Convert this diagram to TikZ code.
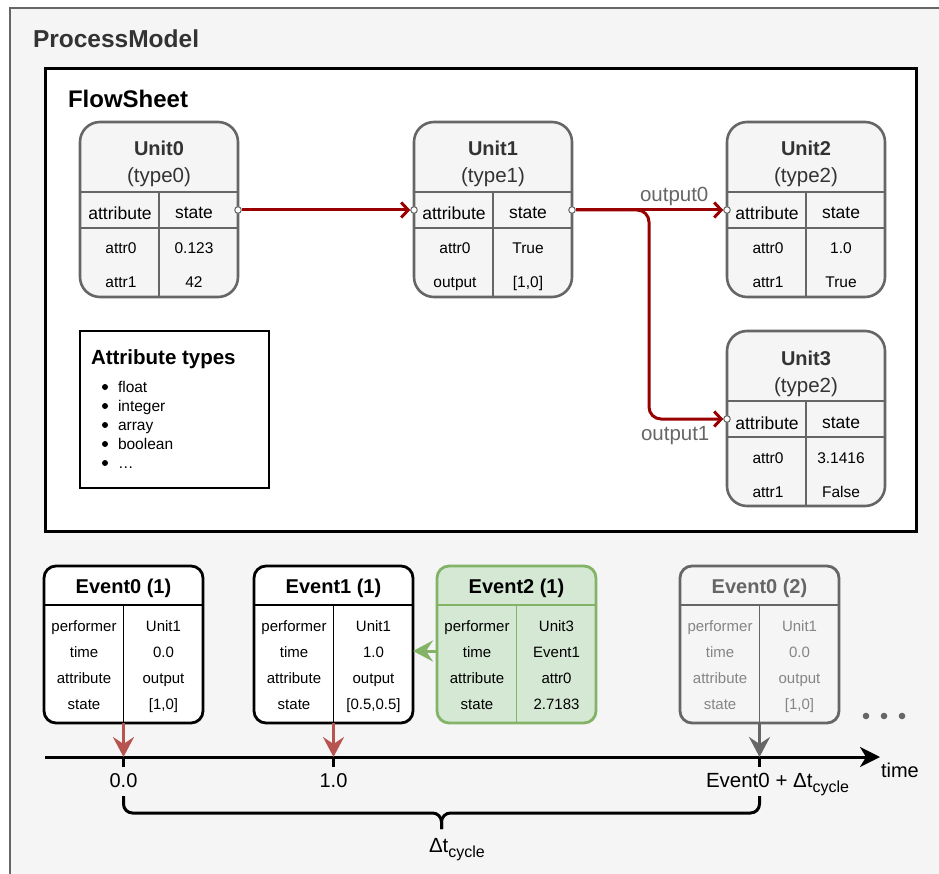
\documentclass[tikz,border=0pt]{standalone}
\usepackage{fontspec}
\setmainfont{Liberation Sans}
\usetikzlibrary{arrows.meta,calc}
\definecolor{bgfill}{HTML}{F5F5F5}
\definecolor{bgline}{HTML}{666666}
\definecolor{txtdark}{HTML}{333333}
\definecolor{flowred}{HTML}{990000}
\definecolor{evred}{HTML}{B85450}
\definecolor{gfill}{HTML}{D5E8D4}
\definecolor{gline}{HTML}{82B366}
\definecolor{fadetxt}{HTML}{858585}
\newcommand\fs[1]{\fontsize{#1}{#1}\selectfont}
\tikzset{
  box/.style={inner sep=0pt, outer sep=0pt, anchor=north west},
  txt/.style={inner sep=0pt, outer sep=0pt, anchor=base},
  txtw/.style={inner sep=0pt, outer sep=0pt, anchor=base west},
  unitbox/.style={box, draw=bgline, fill=bgfill, line width=2.6pt, rounded corners=20pt,
    minimum width=158pt, minimum height=175pt},
  usep/.style={draw=bgline, line width=1.3pt},
  uhead/.style={draw=bgline, line width=2.6pt},
  port/.style={circle, draw=bgline, fill=white, line width=1pt, inner sep=0pt, minimum size=6.5pt},
  flowarrow/.style={draw=flowred, line width=3pt, -{Straight Barb[length=7pt,width=15pt]}},
  evbox/.style={box, line width=2.8pt, rounded corners=12pt, minimum width=159pt, minimum height=157pt},
  evblack/.style={draw=black, fill=white},
  evgreen/.style={draw=gline, fill=gfill},
  evgray/.style={draw=bgline, fill=bgfill},
  droparrow/.style={line width=3pt, -{Stealth[length=20pt,width=21pt,inset=7pt]}},
  bracepart/.style={draw=black, line width=3pt, rounded corners=9pt},
}
\newcommand\mkunit[9]{%
  \node[unitbox] (#1) at (#2,#3) {};
  \draw[usep] ($(#1.north)+(0,70)$) -- (#1.south);
  \draw[usep] ($(#1.north west)+(0,106)$) -- ($(#1.north east)+(0,106)$);
  \draw[uhead] ($(#1.north west)+(0,70)$) -- ($(#1.north east)+(0,70)$);
  \node[txt,text=txtdark,font=\fs{20}\bfseries] (#1-title) at ($(#1.north west)+(79,34)$) {#4};
  \node[txt,text=txtdark,font=\fs{20.5}] (#1-type) at ($(#1.north west)+(79,61)$) {#5};
  \node[txt,font=\fs{17.5}] (#1-ha) at ($(#1.north west)+(40,98)$) {attribute};
  \node[txt,font=\fs{17.5}] (#1-hb) at ($(#1.north west)+(114,97)$) {state};
  \node[txt,font=\fs{15.5}] (#1-a1) at ($(#1.north west)+(41,132)$) {#6};
  \node[txt,font=\fs{15.5}] (#1-b1) at ($(#1.north west)+(114,132)$) {#7};
  \node[txt,font=\fs{15.5}] (#1-a2) at ($(#1.north west)+(41,166)$) {#8};
  \node[txt,font=\fs{15.5}] (#1-b2) at ($(#1.north west)+(114,166)$) {#9};
}
\newcommand\mkevent[5]{% name, left, style, title, title colour
  \node[evbox,#3] (#1) at (#2,566) {};
  \draw[#3, line width=1.6pt] ($(#1.north)+(0,39)$) -- (#1.south);
  \draw[#3, line width=2.8pt] ($(#1.north west)+(0,39)$) -- ($(#1.north east)+(0,39)$);
  \node[txt,text=#5,font=\fs{20}\bfseries] (#1-title) at ($(#1.north)+(0,27)$) {#4};
}
\newcommand\evrows[6]{% name, colour, four values
  \node[txt,text=#2,font=\fs{15}] (#1-l1) at ($(#1.north west)+(40,65)$) {performer};
  \node[txt,text=#2,font=\fs{15}] (#1-r1) at ($(#1.north west)+(119.5,65)$) {#3};
  \node[txt,text=#2,font=\fs{15}] (#1-l2) at ($(#1.north west)+(40,91)$) {time};
  \node[txt,text=#2,font=\fs{15}] (#1-r2) at ($(#1.north west)+(119.5,91)$) {#4};
  \node[txt,text=#2,font=\fs{15}] (#1-l3) at ($(#1.north west)+(40,117)$) {attribute};
  \node[txt,text=#2,font=\fs{15}] (#1-r3) at ($(#1.north west)+(119.5,117)$) {#5};
  \node[txt,text=#2,font=\fs{15}] (#1-l4) at ($(#1.north west)+(40,143)$) {state};
  \node[txt,text=#2,font=\fs{15}] (#1-r4) at ($(#1.north west)+(119.5,143)$) {#6};
}
\begin{document}
\begin{tikzpicture}[x=1pt,y=-1pt]
\useasboundingbox (0,0) rectangle (939,874);
% outer container
\node[box, draw=bgline, fill=bgfill, line width=2.5pt, minimum width=945pt, minimum height=885pt] (pm) at (10,8) {};
\node[txtw, text=txtdark, font=\fs{24.5}\bfseries] (pmtitle) at (33,48) {ProcessModel};
% flowsheet
\node[box, draw=black, fill=white, line width=3pt, minimum width=871pt, minimum height=462pt] (fs) at (45,69) {};
\node[txtw, font=\fs{24}\bfseries] (fstitle) at (68,108) {FlowSheet};
% units
\mkunit{u0}{80}{122}{Unit0}{(type0)}{attr0}{0.123}{attr1}{42}
\mkunit{u1}{414}{122}{Unit1}{(type1)}{attr0}{True}{output}{[1,0]}
\mkunit{u2}{727}{122}{Unit2}{(type2)}{attr0}{1.0}{attr1}{True}
\mkunit{u3}{727}{331}{Unit3}{(type2)}{attr0}{3.1416}{attr1}{False}
\node[port] (u0-out) at ($(u0.north east)+(0,88)$) {};
\node[port] (u1-in) at ($(u1.north west)+(0,88)$) {};
\node[port] (u1-out) at ($(u1.north east)+(0,88)$) {};
\node[port] (u2-in) at ($(u2.north west)+(0,88)$) {};
\node[port] (u3-in) at ($(u3.north west)+(0,88)$) {};
% flow connectors
\draw[flowarrow] (u0-out) -- (u1-in);
\draw[flowarrow] (u1-out) -- (u2-in);
\coordinate (bend) at (649,419);
\draw[flowarrow, rounded corners=12pt] (u1-out) -| (bend) -- (u3-in);
\node[txtw, text=bgline, font=\fs{20.5}] (lab0) at (640,202) {output0};
\node[txtw, text=bgline, font=\fs{20.5}] (lab1) at (641,440) {output1};
% attribute types legend
\node[box, draw=black, fill=white, line width=2pt, minimum width=189pt, minimum height=157pt] (legend) at (80,331) {};
\node[txtw, font=\fs{20.5}\bfseries] (legtitle) at (91,364) {Attribute types};
\foreach \t [count=\i] in {float, integer, array, boolean, …}{
  \fill (105,{373+19*\i-5}) circle (3pt);
  \node[txtw, font=\fs{15.5}] (leg\i) at (118,{373+19*\i}) {\t};
}
% events
\mkevent{ev0}{44}{evblack}{Event0 (1)}{black}
\evrows{ev0}{black}{Unit1}{0.0}{output}{[1,0]}
\mkevent{ev1}{254}{evblack}{Event1 (1)}{black}
\evrows{ev1}{black}{Unit1}{1.0}{output}{[0.5,0.5]}
\mkevent{ev2}{437}{evgreen}{Event2 (1)}{black}
\evrows{ev2}{black}{Unit3}{Event1}{attr0}{2.7183}
\mkevent{ev3}{680}{evgray}{Event0 (2)}{bgline}
\evrows{ev3}{fadetxt}{Unit1}{0.0}{output}{[1,0]}
\foreach \x in {866,884,902}{\fill[bgline] (\x,716) circle (3.3pt);}
% green dependency arrow
\draw[droparrow, draw=gline, fill=gline] ([yshift=-6.5pt]ev2.west) -- ([yshift=-6.5pt]ev1.east);
% time axis
\coordinate (axL) at (45,757);
\coordinate (axR) at (880,757);
\draw[line width=3pt, -{Stealth[length=20pt,width=20pt,inset=6pt]}] (axL) -- (axR);
\node[txtw, font=\fs{20}] (timelab) at (881,777) {time};
\coordinate (t0) at (ev0.south |- axL);
\coordinate (t1) at (ev1.south |- axL);
\coordinate (t2) at (ev3.south |- axL);
\foreach \c in {t0,t1,t2}{\draw[line width=3pt] (\c) -- ++(0,10);}
\draw[droparrow, draw=evred, fill=evred] (ev0.south) -- (t0);
\draw[droparrow, draw=evred, fill=evred] (ev1.south) -- (t1);
\draw[droparrow, draw=bgline, fill=bgline] (ev3.south) -- (t2);
\node[txt, font=\fs{20}] (t0lab) at ($(t0)+(0,30)$) {0.0};
\node[txt, font=\fs{20}] (t1lab) at ($(t1)+(0,30)$) {1.0};
\node[txtw, font=\fs{20.5}] (t2lab) at (706,787) {Event0 + Δt\raisebox{-5pt}{\fs{16}cycle}};
% brace
\coordinate (bl) at ($(t0)+(0,39)$);
\coordinate (br) at ($(t2)+(0,39)$);
\coordinate (bmid) at ($(bl)!0.5!(br)+(0,33)$);
\draw[bracepart] (bl) |- (bmid |- 0,813) -- (bmid);
\draw[bracepart] (br) |- (bmid |- 0,813) -- (bmid);
\node[txtw, font=\fs{20.5}] (dtlab) at (429,852) {Δt\raisebox{-5pt}{\fs{16}cycle}};
\end{tikzpicture}
\end{document}
